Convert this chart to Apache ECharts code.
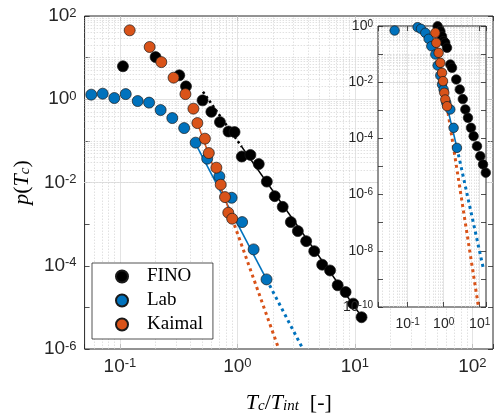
<!DOCTYPE html>
<html>
<head>
<meta charset="utf-8">
<script src="https://cdn.jsdelivr.net/npm/echarts@6.0.0/dist/echarts.min.js"></script>
<style>html,body{margin:0;padding:0;background:#fff;}#chart{width:500px;height:420px;}</style>
</head>
<body>
<div id="chart"></div>
<script>
// ---------- main panel data ----------
const finoX = [0.106, 0.201, 0.32, 0.365, 0.505, 0.60, 0.71, 0.84, 0.946, 1.09, 1.29, 1.52, 1.78, 2.08, 2.43, 2.85, 3.27, 3.85, 4.51, 5.27, 6.15, 7.14, 8.34, 9.68, 11.4];
const finoY = [6.2, 10.3, 3.76, 2.04, 0.94, 0.5, 0.283, 0.168, 0.163, 0.042, 0.046, 0.0278, 0.0105, 0.0047, 0.0026, 0.00112, 6.8e-4, 3.9e-4, 2.24e-4, 1.06e-4, 7.7e-5, 3.4e-5, 2.34e-5, 1.23e-5, 5.8e-6];
const labX = [0.057, 0.0713, 0.0895, 0.112, 0.1416, 0.177, 0.222, 0.279, 0.352, 0.441, 0.553, 0.702, 0.893, 1.097, 1.374, 1.77];
const labY = [1.29, 1.36, 1.07, 1.33, 0.906, 0.83, 0.55, 0.353, 0.203, 0.0906, 0.0373, 0.014, 0.0043, 0.00112, 2.47e-4, 4.7e-5];
const kaimalX = [0.121, 0.179, 0.225, 0.286, 0.361, 0.422, 0.456, 0.529, 0.571, 0.662, 0.721, 0.784, 0.836, 0.903];
const kaimalY = [45.3, 18, 7.8, 3.3, 1.33, 0.594, 0.268, 0.113, 0.051, 0.0227, 0.00885, 0.00446, 0.00188, 0.00135];
// fitted power laws (solid over fit range, dotted extrapolation)
const finoFitX = [1.09, 11.4],  finoFitY = [0.0718, 6e-6];
const finoExtX = [0.509, 1.09], finoExtY = [1.51, 0.0718];
const labFitX = [0.44, 1.77],   labFitY = [0.086, 4.7e-5];
const labExtX = [1.77, 3.61],   labExtY = [4.7e-5, 1e-6];
const kaimalFitX = [0.456, 0.903], kaimalFitY = [0.268, 0.00135];
const kaimalExtX = [0.903, 2.25],  kaimalExtY = [0.00135, 1e-6];

// ---------- inset panel data ----------
const inFinoX = [0.68, 0.81, 0.9, 1.0, 1.11, 1.24, 1.53, 1.71, 2.24, 2.8, 3.4, 4.0, 4.74, 5.74, 6.79, 8.44, 10.4, 12.4, 14.8];
const inFinoY = [0.98, 0.65, 0.43, 0.29, 0.25, 0.168, 0.0427, 0.0325, 0.0125, 0.0055, 0.0025, 0.00107, 5.4e-4, 2.38e-4, 1.2e-4, 5.3e-5, 2.33e-5, 1.18e-5, 6e-6];
const inLabX = [0.0434, 0.189, 0.234, 0.309, 0.382, 0.454, 0.586, 0.679, 0.807, 0.9, 0.996, 1.18, 1.53, 1.89, 2.34];
const inLabY = [0.69, 0.906, 0.795, 0.573, 0.35, 0.191, 0.0968, 0.0393, 0.0173, 0.00828, 0.0055, 0.00185, 0.00107, 2.38e-4, 4.6e-5];
const inKaimalX = [0.586, 0.624, 0.723, 0.807, 0.9, 0.959, 1.04, 1.11, 1.24];
const inKaimalY = [0.573, 0.252, 0.111, 0.049, 0.0216, 0.0109, 0.0042, 0.00242, 0.0014];
const inLabFitX = [0.9, 2.34],     inLabFitY = [0.008, 4.6e-5];
const inLabExtX = [2.34, 12.9],    inLabExtY = [4.6e-5, 2.1e-9];
const inKaimalFitX = [0.62, 1.24], inKaimalFitY = [0.25, 0.0014];
const inKaimalExtX = [1.24, 9.3],  inKaimalExtY = [0.0014, 1.0e-10];

// axis ranges
const mainXRange = [0.05, 150], mainYRange = [1e-6, 1e2];
const inXRange = [0.015, 15], inYRange = [1e-10, 1];

const names = ['FINO', 'Lab', 'Kaimal'];
const colors = { FINO: '#000000', Lab: '#0072BD', Kaimal: '#D95319' };

function pairs(xs, ys) { return xs.map((x, i) => [x, ys[i]]); }
function isDecade(v) { const l = Math.log10(v); return Math.abs(l - Math.round(l)) < 1e-6; }
function tickFmt(step) {
  return function (v) {
    if (!isDecade(v)) return '';
    const e = Math.round(Math.log10(v));
    if (e % step !== 0) return '';
    return '{b|10}{s|' + e + '}';
  };
}
function richTicks(big, small, lift) {
  return {
    b: { fontFamily: 'Liberation Sans', fontSize: big, lineHeight: big, color: '#262626', verticalAlign: 'bottom', padding: [lift, 0, 0, 0] },
    s: { fontFamily: 'Liberation Sans', fontSize: small, lineHeight: small, color: '#262626', verticalAlign: 'top' }
  };
}
// grid line positions for log axes
function logGrid(range, majorStep) {
  const major = [], minor = [];
  const e0 = Math.floor(Math.log10(range[0])), e1 = Math.ceil(Math.log10(range[1]));
  for (let e = e0; e <= e1; e++) {
    for (let k = 1; k <= 9; k++) {
      const v = k * Math.pow(10, e);
      if (v <= range[0] * 1.0001 || v >= range[1] * 0.9999) continue;
      if (k === 1 && e % majorStep === 0) major.push(v); else minor.push(v);
    }
  }
  return { major, minor };
}
const majorStyle = { color: '#dcdcdc', width: 0.8, type: 'solid' };
const minorStyle = { color: '#d4d4d4', width: 0.7, type: [1.5, 1.5] };
function gridMarkLines(xr, yr, yStep) {
  const gx = logGrid(xr, 1), gy = logGrid(yr, yStep);
  const d = [];
  gx.minor.forEach(v => d.push({ xAxis: v, lineStyle: minorStyle }));
  gy.minor.forEach(v => d.push({ yAxis: v, lineStyle: minorStyle }));
  gx.major.forEach(v => d.push({ xAxis: v, lineStyle: majorStyle }));
  gy.major.forEach(v => d.push({ yAxis: v, lineStyle: majorStyle }));
  return d;
}

const axisColor = '#262626';
function xAxisDef(grid, range, pos, labels, big, small, lift, margin) {
  return {
    type: 'log', logBase: 10, gridIndex: grid, min: range[0], max: range[1], position: pos,
    splitNumber: 3,
    axisLine: { show: false }, splitLine: { show: false }, minorTick: { show: false },
    axisTick: { show: true, inside: true, length: 5, lineStyle: { color: axisColor, width: 0.8 } },
    axisLabel: { show: labels, interval: 0, hideOverlap: false, margin: margin, formatter: tickFmt(1), rich: richTicks(big, small, lift) },
    z: grid === 1 ? 11 : 0
  };
}
function yAxisDef(grid, range, pos, labels, big, small, lift, margin) {
  return {
    type: 'log', logBase: 10, gridIndex: grid, min: range[0], max: range[1], position: pos,
    interval: 1,
    axisLine: { show: false }, splitLine: { show: false }, minorTick: { show: false },
    axisTick: { show: true, inside: true, length: 5, lineStyle: { color: axisColor, width: 0.8 } },
    axisLabel: { show: labels, interval: 0, hideOverlap: false, margin: margin, formatter: tickFmt(2), rich: richTicks(big, small, lift) },
    z: grid === 1 ? 11 : 0
  };
}

const serif = 'Liberation Serif';
const nameRich = {
  i: { fontFamily: serif, fontStyle: 'italic', fontSize: 22, lineHeight: 22, color: '#000', verticalAlign: 'top' },
  n: { fontFamily: serif, fontSize: 22, lineHeight: 22, color: '#000', verticalAlign: 'top' },
  sub: { fontFamily: serif, fontStyle: 'italic', fontSize: 15, lineHeight: 15, color: '#000', verticalAlign: 'bottom', padding: [10, 0, 0, 0] }
};

const xMain = xAxisDef(0, mainXRange, 'bottom', true, 19, 13, 5, 8);
xMain.name = '{i|T}{sub|c}{n|/}{i|T}{sub|int}{n|  [-]}';
xMain.nameLocation = 'middle';
xMain.nameGap = 43;
xMain.nameTextStyle = { rich: nameRich };
const yMain = yAxisDef(0, mainYRange, 'left', true, 19, 13, 5, 8);
yMain.name = '{i|p}{n|(}{i|T}{sub|c}{n|)}';
yMain.nameLocation = 'middle';
yMain.nameGap = 46;
yMain.nameRotate = 90;
yMain.nameTextStyle = { rich: nameRich };

function markerSeries(name, xs, ys, xi, yi, size, z) {
  return {
    name: name, type: 'scatter', xAxisIndex: xi, yAxisIndex: yi, z: z,
    data: pairs(xs, ys), symbol: 'circle', symbolSize: size,
    itemStyle: { color: colors[name], borderColor: '#1a1a1a', borderWidth: 0.7, opacity: 1 }
  };
}
function lineSeries(name, xs, ys, xi, yi, dotted, z, width) {
  return {
    name: name + (dotted ? ' ext' : ' fit'), type: 'line', xAxisIndex: xi, yAxisIndex: yi, z: z,
    data: pairs(xs, ys), showSymbol: false, symbol: 'none', clip: true, silent: true,
    lineStyle: { color: colors[name], width: width, type: dotted ? [width, width * 1.2] : 'solid', cap: 'butt' }
  };
}

const option = {
  animation: false,
  backgroundColor: '#ffffff',
  grid: [
    { left: 81, top: 16, width: 412, height: 333, show: true, backgroundColor: '#fff', borderColor: axisColor, borderWidth: 1, z: 0 },
    { left: 378, top: 26, width: 108, height: 281, show: true, backgroundColor: '#fff', borderColor: axisColor, borderWidth: 1, z: 10 }
  ],
  xAxis: [
    xMain,
    xAxisDef(0, mainXRange, 'top', false, 19, 13, 5, 8),
    xAxisDef(1, inXRange, 'bottom', true, 14, 10, 4, 10),
    xAxisDef(1, inXRange, 'top', false, 14, 10, 4, 10)
  ],
  yAxis: [
    yMain,
    yAxisDef(0, mainYRange, 'right', false, 19, 13, 5, 8),
    yAxisDef(1, inYRange, 'left', true, 14, 10, 4, 5),
    yAxisDef(1, inYRange, 'right', false, 14, 10, 4, 5)
  ],
  legend: {
    data: names, orient: 'vertical', left: 92, top: 263, z: 5,
    icon: 'circle', itemWidth: 12, itemHeight: 12, itemGap: 5,
    padding: [4, 10, 5, 23],
    backgroundColor: '#fff', borderColor: axisColor, borderWidth: 0.8, borderRadius: 0,
    formatter: n => '{t|' + n + '}',
    textStyle: { rich: { t: { fontFamily: serif, fontSize: 19, lineHeight: 20, color: '#000', padding: [0, 0, 0, 14] } } }
  },
  series: [
    { name: 'grid-main', type: 'line', xAxisIndex: 0, yAxisIndex: 0, z: 1, data: [], silent: true,
      markLine: { z: 1, silent: true, symbol: ['none', 'none'], label: { show: false }, animation: false, data: gridMarkLines(mainXRange, mainYRange, 2) } },
    lineSeries('FINO', finoExtX, finoExtY, 0, 0, true, 2, 2.5),
    lineSeries('FINO', finoFitX, finoFitY, 0, 0, false, 2, 1.6),
    lineSeries('Lab', labExtX, labExtY, 0, 0, true, 2, 3),
    lineSeries('Lab', labFitX, labFitY, 0, 0, false, 2, 1.6),
    lineSeries('Kaimal', kaimalExtX, kaimalExtY, 0, 0, true, 2, 3),
    lineSeries('Kaimal', kaimalFitX, kaimalFitY, 0, 0, false, 2, 1.6),
    markerSeries('FINO', finoX, finoY, 0, 0, 11, 3),
    markerSeries('Lab', labX, labY, 0, 0, 11, 3),
    markerSeries('Kaimal', kaimalX, kaimalY, 0, 0, 11, 3),

    { name: 'grid-inset', type: 'line', xAxisIndex: 2, yAxisIndex: 2, z: 11, data: [], silent: true,
      markLine: { z: 11, silent: true, symbol: ['none', 'none'], label: { show: false }, animation: false, data: gridMarkLines(inXRange, inYRange, 2) } },
    lineSeries('Lab', inLabExtX, inLabExtY, 2, 2, true, 12, 3),
    lineSeries('Kaimal', inKaimalExtX, inKaimalExtY, 2, 2, true, 12, 3),
    lineSeries('Lab', inLabFitX, inLabFitY, 2, 2, false, 12, 1.6),
    lineSeries('Kaimal', inKaimalFitX, inKaimalFitY, 2, 2, false, 12, 1.6),
    markerSeries('FINO', inFinoX, inFinoY, 2, 2, 9.5, 13),
    markerSeries('Lab', inLabX, inLabY, 2, 2, 9.5, 13),
    markerSeries('Kaimal', inKaimalX, inKaimalY, 2, 2, 9.5, 13)
  ]
};

const chart = echarts.init(document.getElementById('chart'), null, { renderer: 'canvas' });
chart.setOption(option);
</script>
</body>
</html>
